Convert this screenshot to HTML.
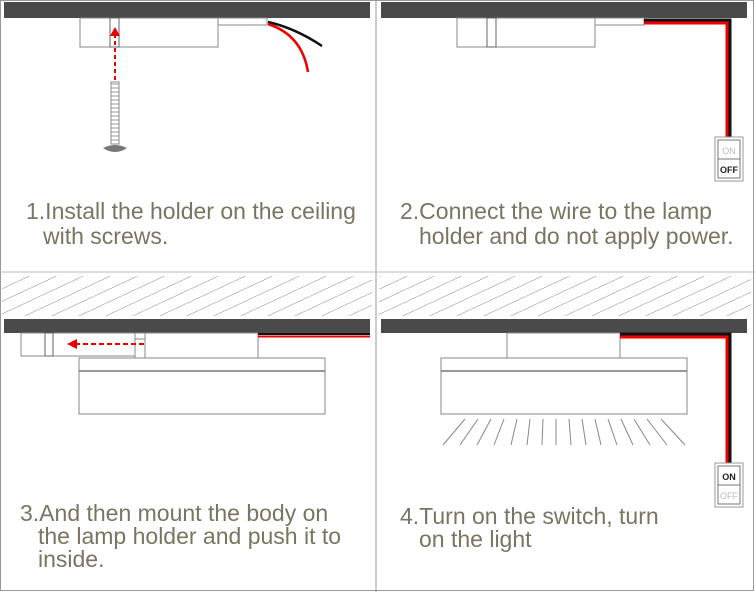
<!DOCTYPE html>
<html><head><meta charset="utf-8"><style>
html,body{margin:0;padding:0;background:#fff;}
svg{display:block;}
text{font-family:"Liberation Sans",sans-serif;font-size:23px;fill:#7a7560;}
</style></head><body>
<svg width="755" height="592" viewBox="0 0 755 592" xmlns="http://www.w3.org/2000/svg">
<defs>
<pattern id="hatch" width="27" height="40" patternUnits="userSpaceOnUse" patternTransform="skewX(-65)">
<line x1="0" y1="0" x2="0" y2="40" stroke="#333" stroke-width="1.3"/>
</pattern>
</defs>
<rect x="0.5" y="0.5" width="753" height="590" fill="none" stroke="#999"/>
<line x1="376" y1="0" x2="376" y2="592" stroke="#999"/>
<line x1="0" y1="272" x2="755" y2="272" stroke="#bbb"/>

<!-- Panel 1 -->
<rect x="4" y="2" width="366" height="16" fill="#4a4a4a"/>
<rect x="80" y="18" width="138" height="29" fill="#fff" stroke="#888"/>
<rect x="110" y="18" width="9" height="29" fill="none" stroke="#666"/>
<rect x="218" y="18" width="49" height="7" fill="#fff" stroke="#888"/>
<path d="M268 22 Q295 28 322 46" stroke="#111" stroke-width="2.5" fill="none"/>
<path d="M268 24 Q302 35 308 72" stroke="#e00" stroke-width="2.5" fill="none"/>
<line x1="115" y1="80" x2="115" y2="36" stroke="#e00" stroke-width="2" stroke-dasharray="4,3"/>
<polygon points="115,27 110,36 120,36" fill="#e00"/>
<rect x="111" y="82" width="8" height="62" fill="#fff" stroke="#888"/>
<path d="M111 84 H119 M111 88 H119 M111 92 H119 M111 96 H119 M111 100 H119 M111 104 H119 M111 108 H119 M111 112 H119 M111 116 H119 M111 120 H119 M111 124 H119 M111 128 H119 M111 132 H119 M111 136 H119 M111 140 H119" stroke="#999" stroke-width="1"/>
<path d="M103 148 Q115 142 127 148 Q115 156 103 148 Z" fill="#777"/>
<text x="26" y="219">1.Install the holder on the ceiling</text>
<text x="43" y="244">with screws.</text>

<!-- Panel 2 -->
<rect x="381" y="2" width="366" height="16" fill="#4a4a4a"/>
<rect x="457" y="18" width="138" height="29" fill="#fff" stroke="#888"/>
<rect x="487" y="18" width="9" height="29" fill="none" stroke="#666"/>
<rect x="595" y="18" width="49" height="7" fill="#fff" stroke="#888"/>
<path d="M644 20 H730 V137" stroke="#111" stroke-width="3" fill="none"/>
<path d="M644 23 H727 V137" stroke="#e00" stroke-width="3" fill="none"/>
<rect x="715" y="137" width="28" height="44" fill="#fff" stroke="#999"/>
<rect x="718" y="140" width="22" height="38" fill="#fff" stroke="#777"/>
<line x1="718" y1="159" x2="740" y2="159" stroke="#777"/>
<text x="729" y="154" text-anchor="middle" style="font-size:9px;fill:#bbb">ON</text>
<text x="729" y="173" text-anchor="middle" style="font-size:9px;fill:#222;font-weight:bold">OFF</text>
<text x="400" y="219">2.Connect the wire to the lamp</text>
<text x="419" y="244">holder and do not apply power.</text>

<!-- Panel 3 -->
<rect x="2" y="276" width="370" height="40" fill="url(#hatch)"/>
<rect x="4" y="319" width="366" height="14" fill="#4a4a4a"/>
<rect x="21" y="333" width="114" height="23" fill="#fff" stroke="#888"/>
<rect x="45" y="333" width="8" height="23" fill="none" stroke="#666"/>
<rect x="135" y="333" width="10" height="25" fill="#fff" stroke="#888"/>
<line x1="135" y1="339" x2="145" y2="339" stroke="#888"/>
<rect x="145" y="333" width="113" height="25" fill="#fff" stroke="#888"/>
<line x1="258" y1="334" x2="370" y2="334" stroke="#111" stroke-width="2"/>
<line x1="258" y1="336.5" x2="370" y2="336.5" stroke="#e00" stroke-width="2"/>
<rect x="79" y="358" width="246" height="56" fill="#fff" stroke="#888"/>
<line x1="79" y1="371" x2="325" y2="371" stroke="#777" stroke-width="1.5"/>
<line x1="144" y1="344" x2="76" y2="344" stroke="#e00" stroke-width="2" stroke-dasharray="5,3"/>
<polygon points="67,344 77,339 77,349" fill="#e00"/>
<text x="20" y="521">3.And then mount the body on</text>
<text x="38" y="544">the lamp holder and push it to</text>
<text x="38" y="567">inside.</text>

<!-- Panel 4 -->
<rect x="379" y="276" width="372" height="40" fill="url(#hatch)"/>
<rect x="381" y="319" width="366" height="14" fill="#4a4a4a"/>
<rect x="507" y="333" width="113" height="25" fill="#fff" stroke="#888"/>
<path d="M620 334 H730 V463" stroke="#111" stroke-width="3" fill="none"/>
<path d="M620 337 H727 V463" stroke="#e00" stroke-width="3" fill="none"/>
<rect x="441" y="358" width="246" height="56" fill="#fff" stroke="#888"/>
<line x1="441" y1="371" x2="687" y2="371" stroke="#777" stroke-width="1.5"/>
<g stroke="#888" stroke-width="1">
<line x1="465" y1="419" x2="443" y2="445"/>
<line x1="478" y1="419" x2="460" y2="445"/>
<line x1="491" y1="419" x2="477" y2="445"/>
<line x1="504" y1="419" x2="494" y2="445"/>
<line x1="517" y1="419" x2="511" y2="445"/>
<line x1="530" y1="419" x2="527" y2="445"/>
<line x1="543" y1="419" x2="542" y2="445"/>
<line x1="556" y1="419" x2="556" y2="445"/>
<line x1="569" y1="419" x2="571" y2="445"/>
<line x1="582" y1="419" x2="586" y2="445"/>
<line x1="595" y1="419" x2="601" y2="445"/>
<line x1="608" y1="419" x2="617" y2="445"/>
<line x1="621" y1="419" x2="633" y2="445"/>
<line x1="634" y1="419" x2="650" y2="445"/>
<line x1="647" y1="419" x2="667" y2="445"/>
<line x1="661" y1="419" x2="685" y2="445"/>
</g>
<rect x="715" y="463" width="28" height="44" fill="#fff" stroke="#999"/>
<rect x="718" y="466" width="22" height="38" fill="#fff" stroke="#777"/>
<line x1="718" y1="485" x2="740" y2="485" stroke="#777"/>
<text x="729" y="480" text-anchor="middle" style="font-size:9px;fill:#222;font-weight:bold">ON</text>
<text x="729" y="499" text-anchor="middle" style="font-size:9px;fill:#bbb">OFF</text>
<text x="400" y="524">4.Turn on the switch, turn</text>
<text x="419" y="547">on the light</text>
</svg>
</body></html>
